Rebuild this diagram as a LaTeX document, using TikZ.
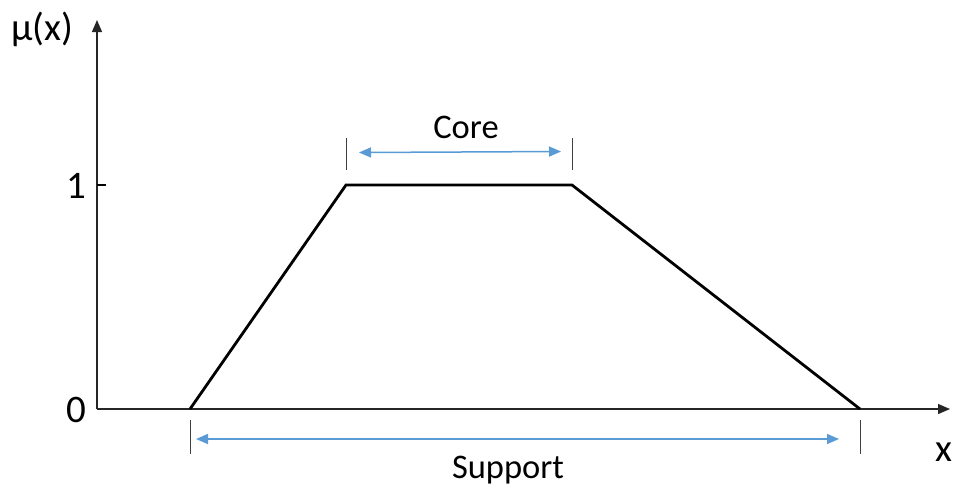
\documentclass[tikz,border=0pt]{standalone}
\usepackage{fontspec}
\setmainfont{Carlito}
\usetikzlibrary{arrows.meta}
\definecolor{arrblue}{HTML}{5B9BD5}
\tikzset{
  axis/.style={line width=1.3pt, draw=black!85, -{Triangle[length=12pt,width=10pt]}},
  curve/.style={line width=2.8pt, line join=miter, line cap=butt},
  tickline/.style={line width=1pt, draw=black!75},
  span/.style={line width=1.5pt, draw=arrblue, {Triangle[length=12pt,width=10pt]}-{Triangle[length=12pt,width=10pt]}},
  biglabel/.style={font=\fontsize{39}{45}\selectfont, inner sep=0pt},
  smalllabel/.style={font=\fontsize{34.5}{40}\selectfont, inner sep=0pt}
}
\begin{document}
\begin{tikzpicture}[x=1pt,y=-1pt]
\useasboundingbox[fill=white] (0,0) rectangle (957,491);
% axes
\coordinate (O) at (97,409);
\coordinate (ytop) at (97,20);
\coordinate (xend) at (950,409);
\draw[axis] (O) -- (ytop);
\draw[axis] (O) -- (xend);
% tick at 1
\coordinate (t1a) at (97,185);
\coordinate (t1b) at (106,185);
\draw[line width=2pt] (t1a) -- (t1b);
% trapezoid
\coordinate (A) at (190,409);
\coordinate (B) at (346,185);
\coordinate (C) at (572,185);
\coordinate (D) at (860,409);
\draw[curve] (A) -- (B) -- (C) -- (D);
% core markers
\coordinate (cl1) at (346,138);
\coordinate (cl2) at (346,170);
\coordinate (cr1) at (572,138);
\coordinate (cr2) at (572,170);
\draw[tickline] (cl1) -- (cl2);
\draw[tickline] (cr1) -- (cr2);
\coordinate (ca) at (359,152.5);
\coordinate (cb) at (561,151.5);
\draw[span] (ca) -- (cb);
% support markers
\coordinate (sl1) at (190,420);
\coordinate (sl2) at (190,454);
\coordinate (sr1) at (860,420);
\coordinate (sr2) at (860,454);
\draw[tickline] (sl1) -- (sl2);
\draw[tickline] (sr1) -- (sr2);
\coordinate (sa) at (196,439);
\coordinate (sb) at (839,439);
\draw[span] (sa) -- (sb);
% labels
\node[biglabel] (mu) at (42,29) {μ(x)};
\node[biglabel] (one) at (76,186) {1};
\node[biglabel] (zero) at (76,410) {0};
\node[biglabel] (xl) at (944,452) {x};
\node[smalllabel] (core) at (466,127) {Core};
\node[smalllabel] (support) at (508,470) {Support};
\end{tikzpicture}
\end{document}
